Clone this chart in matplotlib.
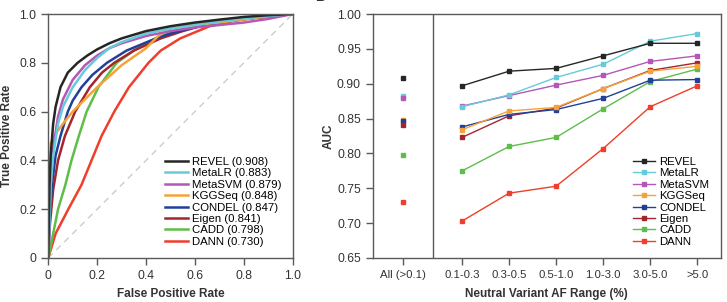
import matplotlib
matplotlib.use("Agg")
import matplotlib.pyplot as plt

plt.rcParams["font.family"] = ["Liberation Sans", "DejaVu Sans"]

MODELS = ["REVEL", "MetaLR", "MetaSVM", "KGGSeq", "CONDEL", "Eigen", "CADD", "DANN"]
COLORS = ["#262626", "#66cbd9", "#b457b8", "#f6a23a", "#21409a", "#a4262c", "#5fbd4a", "#ef3e2c"]
AUC_ALL = [0.908, 0.883, 0.879, 0.848, 0.847, 0.841, 0.798, 0.730]

# ROC curves
roc_fpr = {
    "REVEL": [0, 0.005, 0.01, 0.02, 0.03, 0.05, 0.08, 0.12, 0.16, 0.2, 0.25, 0.3, 0.4, 0.5, 0.6, 0.7, 0.8, 0.9, 1.0],
    "MetaLR": [0, 0.01, 0.02, 0.04, 0.06, 0.1, 0.15, 0.2, 0.25, 0.3, 0.4, 0.5, 0.6, 0.7, 0.8, 0.9, 1.0],
    "MetaSVM": [0, 0.01, 0.02, 0.04, 0.06, 0.1, 0.15, 0.2, 0.25, 0.3, 0.4, 0.5, 0.6, 0.7, 0.8, 0.9, 1.0],
    "KGGSeq": [0, 0.003, 0.01, 0.03, 0.06, 0.1, 0.15, 0.2, 0.25, 0.3, 0.35, 0.4, 0.45, 0.5, 0.6, 0.7, 0.8, 0.9, 1.0],
    "CONDEL": [0, 0.005, 0.015, 0.03, 0.05, 0.08, 0.1, 0.136, 0.18, 0.24, 0.32, 0.44, 0.5, 0.62, 0.7, 0.8, 0.9, 1.0],
    "Eigen": [0, 0.005, 0.02, 0.04, 0.068, 0.11, 0.17, 0.22, 0.27, 0.35, 0.46, 0.55, 0.62, 0.7, 0.8, 0.9, 1.0],
    "CADD": [0, 0.02, 0.04, 0.07, 0.095, 0.125, 0.157, 0.205, 0.28, 0.35, 0.44, 0.57, 0.7, 0.8, 0.9, 1.0],
    "DANN": [0, 0.03, 0.082, 0.136, 0.177, 0.218, 0.27, 0.33, 0.41, 0.46, 0.54, 0.66, 0.75, 0.85, 1.0],
}
roc_tpr = {
    "REVEL": [0, 0.30, 0.42, 0.55, 0.62, 0.70, 0.76, 0.80, 0.83, 0.855, 0.88, 0.90, 0.93, 0.95, 0.965, 0.977, 0.988, 0.995, 1.0],
    "MetaLR": [0, 0.3, 0.42, 0.55, 0.62, 0.70, 0.77, 0.82, 0.86, 0.885, 0.92, 0.94, 0.955, 0.97, 0.982, 0.992, 1.0],
    "MetaSVM": [0, 0.3, 0.45, 0.58, 0.65, 0.73, 0.79, 0.83, 0.86, 0.88, 0.91, 0.93, 0.945, 0.955, 0.965, 0.98, 1.0],
    "KGGSeq": [0, 0.3, 0.47, 0.51, 0.55, 0.60, 0.65, 0.70, 0.745, 0.79, 0.825, 0.86, 0.91, 0.94, 0.955, 0.965, 0.978, 0.99, 1.0],
    "CONDEL": [0, 0.15, 0.3, 0.42, 0.5, 0.6, 0.645, 0.7, 0.75, 0.8, 0.85, 0.9, 0.92, 0.95, 0.965, 0.98, 0.99, 1.0],
    "Eigen": [0, 0.12, 0.28, 0.4, 0.5, 0.6, 0.7, 0.76, 0.8, 0.85, 0.9, 0.93, 0.95, 0.965, 0.98, 0.99, 1.0],
    "CADD": [0, 0.1, 0.2, 0.3, 0.4, 0.5, 0.6, 0.7, 0.8, 0.85, 0.9, 0.95, 0.97, 0.98, 0.99, 1.0],
    "DANN": [0, 0.1, 0.2, 0.3, 0.4, 0.5, 0.6, 0.7, 0.8, 0.85, 0.9, 0.95, 0.97, 0.985, 1.0],
}

# panel B: AUC per neutral-variant AF range
AF_LABELS = ["0.1-0.3", "0.3-0.5", "0.5-1.0", "1.0-3.0", "3.0-5.0", ">5.0"]
AF_POS = [1.25, 2.25, 3.25, 4.25, 5.25, 6.25]
auc_af = {
    "REVEL": [0.897, 0.918, 0.922, 0.940, 0.958, 0.958],
    "MetaLR": [0.867, 0.884, 0.909, 0.928, 0.961, 0.972],
    "MetaSVM": [0.868, 0.883, 0.898, 0.912, 0.932, 0.940],
    "KGGSeq": [0.834, 0.861, 0.866, 0.893, 0.918, 0.925],
    "CONDEL": [0.838, 0.856, 0.863, 0.879, 0.905, 0.906],
    "Eigen": [0.823, 0.854, 0.865, 0.893, 0.919, 0.930],
    "CADD": [0.775, 0.810, 0.823, 0.864, 0.903, 0.921],
    "DANN": [0.703, 0.743, 0.753, 0.807, 0.867, 0.897],
}

SPINE = "#5a5a5a"
TXT = "#333333"
LABSIZE = 8.5

fig = plt.figure(figsize=(7.27, 3.02), dpi=100)
axA = fig.add_axes([0.0664, 0.1457, 0.3362, 0.8079])
axB = fig.add_axes([0.5127, 0.1457, 0.4787, 0.8079])

for ax in (axA, axB):
    for s in ax.spines.values():
        s.set_color(SPINE)
        s.set_linewidth(1.0)
    ax.tick_params(direction="out", length=5, width=1, color=SPINE,
                   labelcolor=TXT, labelsize=8.8)

# ---- A: ROC ----
axA.plot([0, 1], [0, 1], ls=(0, (5, 4)), color="#c8c8c8", lw=0.9, zorder=1)
for m, c, a in reversed(list(zip(MODELS, COLORS, AUC_ALL))):
    axA.plot(roc_fpr[m], roc_tpr[m], color=c, lw=1.8, label=f"{m} ({a:.3f})", zorder=2)
axA.set_xlim(0, 1)
axA.set_ylim(0, 1)
ticks = [0, 0.2, 0.4, 0.6, 0.8, 1.0]
tl = ["0", "0.2", "0.4", "0.6", "0.8", "1.0"]
axA.set_xticks(ticks)
axA.set_xticklabels(tl)
axA.set_yticks(ticks)
axA.set_yticklabels(tl)
axA.set_xlabel("False Positive Rate", fontsize=LABSIZE, fontweight="bold", color=TXT)
axA.set_ylabel("True Positive Rate", fontsize=LABSIZE, fontweight="bold", color=TXT)
axA.xaxis.set_label_coords(0.5, -0.125)
axA.yaxis.set_label_coords(-0.145, 0.5)
h, l = axA.get_legend_handles_labels()
axA.legend(h[::-1], l[::-1], loc="lower right", bbox_to_anchor=(1.0, 0.0), frameon=False,
           fontsize=8.2, handlelength=2.0, handletextpad=0.35, labelspacing=0.12,
           borderaxespad=0.6)

# ---- B: AUC by AF range ----
for m, c, a in zip(MODELS, COLORS, AUC_ALL):
    axB.plot([0], [a], ls="none", marker="s", ms=3.4, color=c, zorder=3)
for m, c in reversed(list(zip(MODELS, COLORS))):
    axB.plot(AF_POS, auc_af[m], color=c, lw=1.0, marker="s", ms=3.4, label=m, zorder=3)
axB.axvline(0.625, color=SPINE, lw=1.0)
axB.set_xlim(-0.65, 6.75)
axB.set_ylim(0.65, 1.0)
yt = [0.65, 0.70, 0.75, 0.80, 0.85, 0.90, 0.95, 1.00]
axB.set_yticks(yt)
axB.set_yticklabels([f"{v:.2f}" for v in yt])
axB.set_xticks([0] + AF_POS)
axB.set_xticklabels(["All (>0.1)"] + AF_LABELS, fontsize=8.2)
axB.set_xlabel("Neutral Variant AF Range (%)", fontsize=LABSIZE, fontweight="bold", color=TXT)
axB.set_ylabel("AUC", fontsize=LABSIZE, fontweight="bold", color=TXT)
axB.xaxis.set_label_coords(0.5, -0.125)
axB.yaxis.set_label_coords(-0.11, 0.5)
h, l = axB.get_legend_handles_labels()
axB.legend(h[::-1], l[::-1], loc="lower right", bbox_to_anchor=(1.0, 0.0), frameon=False,
           fontsize=8.2, handlelength=2.0, handletextpad=0.35, labelspacing=0.12,
           borderaxespad=0.6)

fig.text(0.44, 0.987, "B", fontsize=10, fontweight="bold", color=TXT, va="bottom", ha="center")

fig.savefig("out.png", dpi=100)
